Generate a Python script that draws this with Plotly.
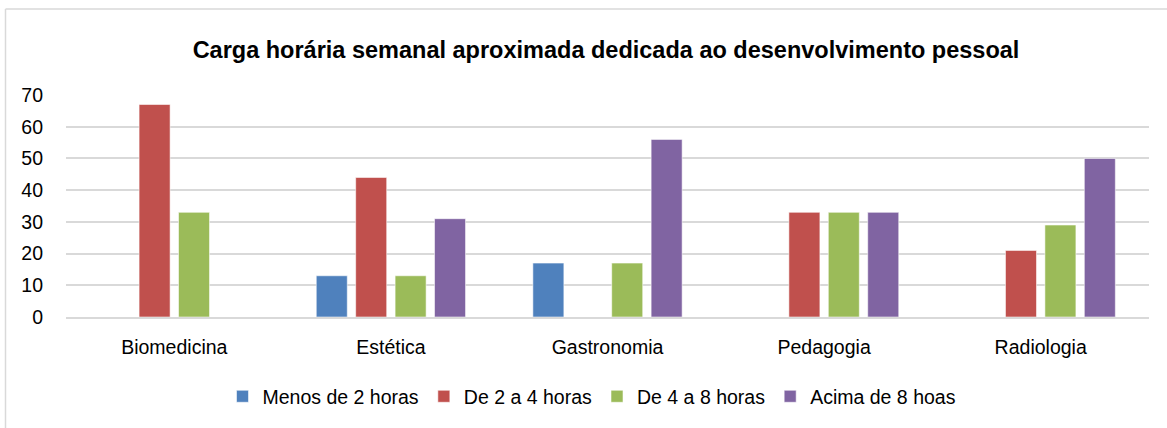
import plotly.graph_objects as go

categories = ["Biomedicina", "Estética", "Gastronomia", "Pedagogia", "Radiologia"]
series_names = ["Menos de 2 horas", "De 2 a 4 horas", "De 4 a 8 horas", "Acima de 8 hoas"]
menos_2 = [None, 13, 17, None, None]
de_2_a_4 = [67, 44, None, 33, 21]
de_4_a_8 = [33, 13, 17, 33, 29]
acima_8 = [None, 31, 56, 33, 50]
y_ticks = [0, 10, 20, 30, 40, 50, 60, 70]
title_text = "Carga horária semanal aproximada dedicada ao desenvolvimento pessoal"

colors = ["#4F81BD", "#C0504D", "#9BBB59", "#8064A2"]
values = [menos_2, de_2_a_4, de_4_a_8, acima_8]

FONT = "Liberation Sans, Arial, sans-serif"

fig = go.Figure()
for name, vals, col in zip(series_names, values, colors):
    fig.add_trace(go.Bar(
        x=categories, y=vals, name=name,
        marker=dict(color=col, line=dict(color="rgba(255,255,255,0.55)", width=1)),
    ))

W, H = 1167, 428
L, R, T, B = 66, 18, 95, 110.7
pw = W - L - R
ph = H - T - B

def px_to_paper_x(px):
    return (px - L) / pw

def px_to_paper_y(py):
    return (H - B - py) / ph

fig.update_layout(
    width=W, height=H,
    margin=dict(l=L, r=R, t=T, b=B, autoexpand=False),
    paper_bgcolor="white", plot_bgcolor="white",
    font=dict(family=FONT, size=19.5, color="#000000"),
    barmode="group", bargap=0.272, bargroupgap=0.213,
    title=dict(text="<b>" + title_text + "</b>", font=dict(family=FONT, size=23.5, color="#000000"),
               x=px_to_paper_x(606), xref="paper", xanchor="center",
               y=1 - 49.5 / H, yref="container", yanchor="middle"),
    showlegend=True,
    legend=dict(orientation="h", x=px_to_paper_x(592), xanchor="center",
                y=px_to_paper_y(397), yanchor="middle",
                font=dict(family=FONT, size=19.5, color="#000000"),
                bgcolor="rgba(0,0,0,0)", traceorder="normal"),
    xaxis=dict(showgrid=False, showline=True, linecolor="#d9d9d9", linewidth=1.5,
               ticks="", ticklabelstandoff=12, tickfont=dict(size=19.5)),
    yaxis=dict(range=[0, 70], tickvals=y_ticks, showgrid=True, gridcolor="#d9d9d9", gridwidth=1.5,
               zeroline=False, showline=False, ticks="", ticklabelstandoff=22,
               tickfont=dict(size=19.5)),
    shapes=[
        dict(type="line", xref="paper", yref="paper",
             x0=px_to_paper_x(5.5), x1=px_to_paper_x(5.5), y0=px_to_paper_y(9), y1=px_to_paper_y(440),
             line=dict(color="#d9d9d9", width=1.5), layer="below"),
        dict(type="line", xref="paper", yref="paper",
             x0=px_to_paper_x(5.5), x1=px_to_paper_x(1180), y0=px_to_paper_y(9), y1=px_to_paper_y(9),
             line=dict(color="#d9d9d9", width=1.5), layer="below"),
    ],
)

fig.write_html("out.html", config={"displayModeBar": False},
               post_script="document.body.style.margin='0';")
